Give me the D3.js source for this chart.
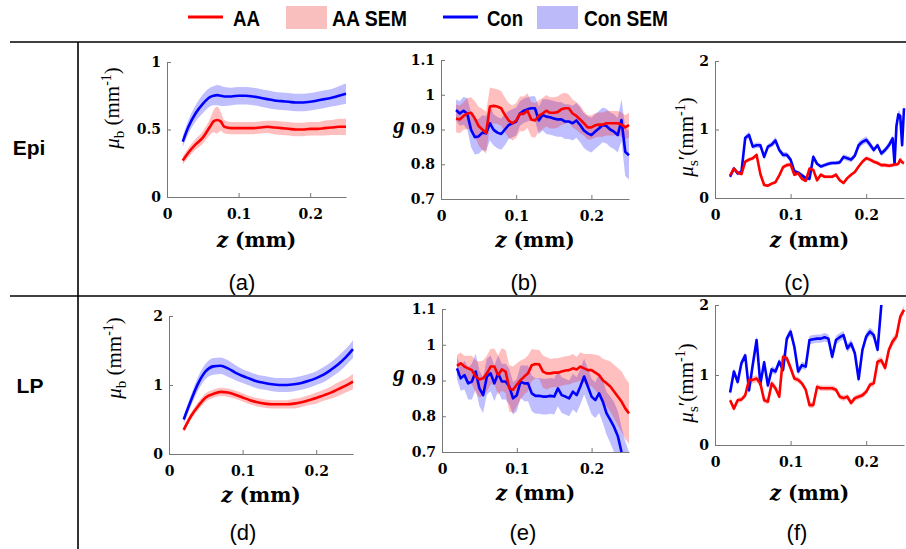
<!DOCTYPE html>
<html>
<head>
<meta charset="utf-8">
<script src="https://cdn.jsdelivr.net/npm/d3@7"></script>
<style>
body { margin: 0; background: #fff; }
svg { display: block; }
</style>
</head>
<body>
<div id="chart"></div>
<script>
// ---- labels / ticks
const legendLabels = ["AA", "AA SEM", "Con", "Con SEM"];
const rowLabels = ["Epi", "LP"];
const panelLabels = ["(a)", "(b)", "(c)", "(d)", "(e)", "(f)"];
const xTicks = [0, 0.1, 0.2];
const ticksMuA = [0, 0.5, 1];
const ticksG = [0.7, 0.8, 0.9, 1, 1.1];
const ticks012 = [0, 1, 2];

// ---- depth grids (mm)
const zA = [0.022,0.03,0.04,0.05,0.06,0.065,0.07,0.075,0.08,0.09,0.1,0.11,0.12,0.13,0.14,0.15,0.16,0.17,0.18,0.19,0.2,0.21,0.22,0.23,0.24,0.25];
const zD = [0.02,0.03,0.04,0.05,0.06,0.07,0.08,0.09,0.1,0.11,0.12,0.13,0.14,0.15,0.16,0.17,0.18,0.19,0.2,0.21,0.22,0.23,0.24,0.25];
const zN = [0.02,0.025,0.03,0.035,0.04,0.045,0.05,0.055,0.06,0.065,
  0.07,0.075,0.08,0.085,0.09,0.095,0.1,0.105,0.11,0.115,
  0.12,0.125,0.13,0.135,0.14,0.145,0.15,0.155,0.16,0.165,
  0.17,0.175,0.18,0.185,0.19,0.195,0.2,0.205,0.21,0.215,
  0.22,0.225,0.23,0.235,0.24,0.245,0.25];
const zC = [0.02,0.025,0.03,0.035,0.04,0.045,0.05,0.055,0.06,0.065,
  0.07,0.075,0.08,0.085,0.09,0.095,0.1,0.105,0.11,0.115,
  0.12,0.125,0.13,0.135,0.14,0.145,0.15,0.155,0.16,0.165,
  0.17,0.175,0.18,0.185,0.19,0.195,0.2,0.205,0.21,0.215,
  0.22,0.225,0.23,0.235,0.2375,0.24,0.2425,0.245,0.2475,0.25];

// ---- (a) Epi mu_b
const aaMuEpi = [0.27,0.33,0.39,0.44,0.52,0.56,0.57,0.56,0.52,0.51,0.51,0.51,0.51,0.515,0.52,0.515,0.51,0.505,0.5,0.5,0.505,0.505,0.51,0.515,0.52,0.52];
const aaMuEpiSem = [0.03,0.035,0.04,0.045,0.06,0.08,0.1,0.07,0.05,0.045,0.045,0.045,0.045,0.045,0.045,0.05,0.05,0.05,0.05,0.05,0.05,0.05,0.055,0.055,0.06,0.06];
const conMuEpi = [0.41,0.52,0.62,0.69,0.74,0.75,0.755,0.75,0.745,0.745,0.75,0.75,0.745,0.735,0.725,0.715,0.71,0.705,0.7,0.7,0.705,0.715,0.725,0.735,0.75,0.765];
const conMuEpiSem = [0.04,0.05,0.06,0.07,0.07,0.07,0.075,0.075,0.07,0.065,0.065,0.065,0.065,0.065,0.065,0.065,0.065,0.065,0.065,0.065,0.065,0.065,0.065,0.065,0.07,0.075];

// ---- (b) Epi g
const aaGEpi = [0.932,0.929,0.939,0.946,0.948,0.932,0.91,0.9,0.891,0.966,
  0.968,0.966,0.961,0.942,0.926,0.918,0.926,0.945,0.945,0.954,
  0.929,0.926,0.939,0.946,0.954,0.948,0.948,0.95,0.958,0.961,
  0.961,0.946,0.939,0.929,0.918,0.906,0.906,0.912,0.914,0.914,
  0.918,0.918,0.918,0.918,0.914,0.906,0.913];
const aaGEpiSem = [0.04,0.04,0.04,0.045,0.045,0.05,0.055,0.06,0.06,0.055,
  0.05,0.05,0.05,0.05,0.05,0.05,0.05,0.05,0.05,0.05,
  0.05,0.05,0.045,0.045,0.045,0.045,0.045,0.045,0.045,0.045,
  0.04,0.04,0.04,0.04,0.035,0.035,0.035,0.035,0.035,0.035,
  0.035,0.035,0.035,0.035,0.035,0.035,0.035];
const conGEpi = [0.956,0.946,0.954,0.945,0.899,0.878,0.88,0.891,0.889,0.918,
  0.899,0.891,0.887,0.9,0.913,0.918,0.923,0.946,0.954,0.958,
  0.961,0.961,0.926,0.942,0.937,0.935,0.932,0.929,0.929,0.923,
  0.923,0.918,0.926,0.913,0.897,0.889,0.884,0.894,0.903,0.913,
  0.91,0.9,0.894,0.884,0.927,0.836,0.826];
const conGEpiSem = [0.03,0.035,0.04,0.045,0.05,0.05,0.05,0.05,0.05,0.05,
  0.045,0.045,0.045,0.045,0.04,0.04,0.04,0.035,0.035,0.035,
  0.035,0.035,0.04,0.045,0.05,0.05,0.05,0.05,0.05,0.05,
  0.05,0.05,0.05,0.05,0.05,0.05,0.05,0.05,0.05,0.05,
  0.05,0.05,0.05,0.05,0.06,0.07,0.07];

// ---- (c) Epi mu_s'
const aaMusEpi = [0.33,0.43,0.37,0.35,0.53,0.56,0.58,0.63,0.35,0.19,
  0.18,0.21,0.23,0.33,0.45,0.48,0.49,0.34,0.36,0.28,
  0.25,0.43,0.41,0.26,0.34,0.31,0.31,0.31,0.34,0.26,
  0.22,0.29,0.34,0.38,0.46,0.53,0.58,0.56,0.53,0.51,
  0.48,0.48,0.47,0.48,0.49,0.49,0.5,0.56,0.52,0.51];
const aaMusEpiSem = [0.025,0.025,0.025,0.025,0.03,0.03,0.03,0.03,0.03,0.025,
  0.025,0.025,0.025,0.025,0.03,0.03,0.03,0.025,0.025,0.025,
  0.025,0.025,0.025,0.025,0.025,0.025,0.025,0.025,0.025,0.025,
  0.025,0.025,0.025,0.025,0.03,0.03,0.03,0.03,0.03,0.03,
  0.03,0.03,0.03,0.03,0.03,0.03,0.03,0.03,0.03,0.03];
const conMusEpi = [0.31,0.43,0.36,0.38,0.88,0.92,0.75,0.77,0.77,0.6,
  0.75,0.78,0.84,0.7,0.63,0.63,0.56,0.39,0.37,0.33,
  0.29,0.28,0.6,0.5,0.46,0.48,0.5,0.51,0.51,0.52,
  0.6,0.58,0.56,0.62,0.77,0.82,0.85,0.78,0.7,0.77,
  0.65,0.7,0.77,0.87,0.5,1.05,1.22,1.2,0.77,1.31];
const conMusEpiSem = [0.03,0.03,0.03,0.03,0.04,0.05,0.04,0.04,0.04,0.04,
  0.04,0.04,0.05,0.04,0.04,0.04,0.04,0.03,0.03,0.03,
  0.03,0.03,0.04,0.03,0.03,0.03,0.03,0.03,0.03,0.03,
  0.04,0.04,0.04,0.04,0.05,0.05,0.05,0.05,0.04,0.04,
  0.04,0.04,0.05,0.05,0.05,0.06,0.06,0.06,0.05,0.06];

// ---- (d) LP mu_b
const aaMuLP = [0.35,0.55,0.7,0.82,0.87,0.9,0.89,0.86,0.82,0.78,0.75,0.73,0.72,0.72,0.72,0.73,0.75,0.78,0.81,0.85,0.89,0.94,0.99,1.05];
const aaMuLPSem = [0.04,0.05,0.06,0.06,0.06,0.06,0.06,0.06,0.06,0.06,0.06,0.06,0.06,0.06,0.06,0.07,0.07,0.07,0.08,0.08,0.09,0.1,0.1,0.11];
const conMuLP = [0.5,0.78,1.03,1.2,1.27,1.28,1.24,1.18,1.13,1.09,1.05,1.03,1.01,1.0,1.0,1.01,1.03,1.06,1.1,1.15,1.22,1.3,1.4,1.52];
const conMuLPSem = [0.06,0.08,0.1,0.11,0.12,0.12,0.12,0.11,0.1,0.1,0.1,0.1,0.1,0.1,0.1,0.1,0.1,0.1,0.1,0.11,0.11,0.12,0.12,0.13];

// ---- (e) LP g
const aaGLP = [0.941,0.948,0.939,0.934,0.929,0.911,0.903,0.906,0.92,0.939,
  0.939,0.915,0.931,0.925,0.878,0.874,0.888,0.901,0.911,0.92,
  0.943,0.946,0.945,0.925,0.92,0.92,0.922,0.922,0.925,0.928,
  0.929,0.934,0.931,0.939,0.934,0.929,0.929,0.922,0.915,0.901,
  0.892,0.883,0.869,0.855,0.841,0.822,0.808];
const aaGLPSem = [0.03,0.03,0.03,0.035,0.04,0.045,0.05,0.05,0.05,0.05,
  0.05,0.055,0.06,0.06,0.065,0.065,0.06,0.055,0.05,0.05,
  0.045,0.04,0.04,0.045,0.045,0.04,0.04,0.04,0.04,0.04,
  0.04,0.04,0.035,0.04,0.04,0.045,0.045,0.05,0.055,0.06,
  0.065,0.07,0.075,0.08,0.085,0.085,0.085];
const conGLP = [0.934,0.906,0.915,0.892,0.897,0.925,0.878,0.859,0.911,0.92,
  0.892,0.92,0.897,0.897,0.883,0.85,0.859,0.897,0.892,0.892,
  0.864,0.857,0.857,0.855,0.855,0.857,0.855,0.878,0.859,0.855,
  0.85,0.869,0.859,0.883,0.911,0.883,0.855,0.845,0.864,0.841,
  0.808,0.79,0.77,0.745,0.7,0.66,0.63];
const conGLPSem = [0.03,0.035,0.04,0.045,0.05,0.05,0.05,0.05,0.05,0.05,
  0.05,0.05,0.05,0.05,0.05,0.045,0.045,0.045,0.05,0.05,
  0.05,0.05,0.05,0.05,0.05,0.05,0.05,0.05,0.05,0.05,
  0.05,0.05,0.05,0.05,0.05,0.05,0.05,0.05,0.055,0.06,
  0.06,0.065,0.07,0.07,0.07,0.07,0.07];

// ---- (f) LP mu_s'
const aaMusLP = [0.64,0.52,0.64,0.65,0.71,0.93,0.93,0.95,0.88,0.64,
  0.62,0.88,0.81,0.69,1.26,1.24,1.1,0.95,0.93,0.88,
  0.79,0.57,0.57,0.83,0.81,0.81,0.81,0.81,0.79,0.69,
  0.67,0.69,0.6,0.67,0.69,0.71,0.76,0.86,0.88,1.19,
  1.21,1.1,1.36,1.48,1.55,1.83,1.93];
const aaMusLPSem = [0.04,0.04,0.04,0.04,0.04,0.05,0.05,0.05,0.05,0.04,
  0.04,0.05,0.05,0.04,0.05,0.05,0.05,0.04,0.04,0.04,
  0.04,0.04,0.04,0.04,0.04,0.04,0.04,0.04,0.04,0.04,
  0.04,0.04,0.04,0.04,0.04,0.04,0.04,0.04,0.05,0.05,
  0.05,0.05,0.05,0.06,0.06,0.06,0.06];
const conMusLP = [0.75,1.05,0.9,1.17,1.28,0.78,1.15,1.5,0.87,1.18,
  0.85,1.08,1.05,1.19,1.07,1.52,1.62,1.4,1.05,1.14,
  1.12,1.5,1.51,1.52,1.52,1.54,1.52,1.26,1.5,1.54,
  1.57,1.38,1.45,1.31,0.94,1.36,1.55,1.62,1.57,1.36,
  2.0,null,null,null,null,null,null];
const conMusLPSem = [0.05,0.05,0.05,0.05,0.05,0.05,0.05,0.06,0.05,0.05,
  0.05,0.05,0.05,0.05,0.05,0.06,0.06,0.06,0.05,0.05,
  0.05,0.06,0.06,0.06,0.06,0.06,0.06,0.06,0.06,0.06,
  0.06,0.06,0.06,0.05,0.05,0.05,0.06,0.06,0.06,0.06,
  0.06,null,null,null,null,null,null];

const RED = "#ff0000", BLUE = "#0000ff";
const PINK = "#f9bfbf", LAV = "#bcbaf8";

const svg = d3.select("#chart").append("svg")
  .attr("width", 906).attr("height", 549);

// frame lines
svg.append("line").attr("x1", 10).attr("x2", 906).attr("y1", 42).attr("y2", 42)
  .attr("stroke", "#000").attr("stroke-width", 1.6);
svg.append("line").attr("x1", 10).attr("x2", 906).attr("y1", 296).attr("y2", 296)
  .attr("stroke", "#000").attr("stroke-width", 1.6);
svg.append("line").attr("x1", 78).attr("x2", 78).attr("y1", 42).attr("y2", 549)
  .attr("stroke", "#000").attr("stroke-width", 1.6);

// legend
const leg = svg.append("g").attr("font-family", "'Liberation Sans', Arial, sans-serif")
  .attr("font-weight", "bold").attr("font-size", 22);
leg.append("line").attr("x1", 188).attr("x2", 223).attr("y1", 17).attr("y2", 17).attr("stroke", RED).attr("stroke-width", 3);
leg.append("text").attr("x", 233).attr("y", 26).attr("textLength", 27).attr("lengthAdjust", "spacingAndGlyphs").text(legendLabels[0]);
leg.append("rect").attr("x", 286).attr("y", 6).attr("width", 41).attr("height", 23).attr("fill", PINK);
leg.append("text").attr("x", 332).attr("y", 26).attr("textLength", 75).attr("lengthAdjust", "spacingAndGlyphs").text(legendLabels[1]);
leg.append("line").attr("x1", 443).attr("x2", 478).attr("y1", 17).attr("y2", 17).attr("stroke", BLUE).attr("stroke-width", 3);
leg.append("text").attr("x", 487).attr("y", 26).attr("textLength", 36).attr("lengthAdjust", "spacingAndGlyphs").text(legendLabels[2]);
leg.append("rect").attr("x", 537).attr("y", 6).attr("width", 41).attr("height", 23).attr("fill", LAV);
leg.append("text").attr("x", 584).attr("y", 26).attr("textLength", 84).attr("lengthAdjust", "spacingAndGlyphs").text(legendLabels[3]);

// row labels
svg.append("text").attr("x", 29).attr("y", 155).attr("text-anchor", "middle")
  .attr("font-family", "'Liberation Sans', Arial, sans-serif").attr("font-weight", "bold")
  .attr("font-size", 21).text(rowLabels[0]);
svg.append("text").attr("x", 30).attr("y", 393).attr("text-anchor", "middle")
  .attr("font-family", "'Liberation Sans', Arial, sans-serif").attr("font-weight", "bold")
  .attr("font-size", 21).text(rowLabels[1]);

const panels = [
  { id: "a", x0: 167, x1: 346, y0: 62, y1: 197, yDom: [0, 1], yTicks: ticksMuA, z: zA, smooth: true,
    aa: aaMuEpi, aaSem: aaMuEpiSem, con: conMuEpi, conSem: conMuEpiSem,
    ylab: "mub", lx: 119, ly: 108, xlabY: 247, plabX: 242, plabY: 290 },
  { id: "b", x0: 441, x1: 629, y0: 60, y1: 199, yDom: [0.7, 1.1], yTicks: ticksG, z: zN, smooth: false,
    aa: aaGEpi, aaSem: aaGEpiSem, con: conGEpi, conSem: conGEpiSem,
    ylab: "g", lx: 399, ly: 133, xlabY: 247, plabX: 524, plabY: 290 },
  { id: "c", x0: 715, x1: 904, y0: 61, y1: 198, yDom: [0, 2], yTicks: ticks012, z: zC, smooth: false,
    aa: aaMusEpi, aaSem: aaMusEpiSem, con: conMusEpi, conSem: conMusEpiSem,
    ylab: "mus", lx: 693, ly: 137, xlabY: 247, plabX: 797, plabY: 290 },
  { id: "d", x0: 169, x1: 353, y0: 316, y1: 454, yDom: [0, 2], yTicks: ticks012, z: zD, smooth: true,
    aa: aaMuLP, aaSem: aaMuLPSem, con: conMuLP, conSem: conMuLPSem,
    ylab: "mub", lx: 121, ly: 358, xlabY: 502, plabX: 243, plabY: 540 },
  { id: "e", x0: 442, x1: 629, y0: 309, y1: 452, yDom: [0.7, 1.1], yTicks: ticksG, z: zN, smooth: false,
    aa: aaGLP, aaSem: aaGLPSem, con: conGLP, conSem: conGLPSem,
    ylab: "g", lx: 399, ly: 381, xlabY: 500, plabX: 523, plabY: 540 },
  { id: "f", x0: 715, x1: 904, y0: 305, y1: 445, yDom: [0, 2], yTicks: ticks012, z: zN, smooth: false,
    aa: aaMusLP, aaSem: aaMusLPSem, con: conMusLP, conSem: conMusLPSem,
    ylab: "mus", lx: 693, ly: 383, xlabY: 500, plabX: 797, plabY: 540 }
];

const defs = svg.append("defs");
const fmt = d3.format("~g");

panels.forEach((p, pi) => {
  const x = d3.scaleLinear().domain([0, 0.25]).range([p.x0, p.x1]);
  const y = d3.scaleLinear().domain(p.yDom).range([p.y1, p.y0]);

  defs.append("clipPath").attr("id", "clip-" + p.id)
    .append("rect").attr("x", p.x0).attr("y", p.y0 - 1)
    .attr("width", p.x1 - p.x0 + 2).attr("height", p.y1 - p.y0 + 1);

  const g = svg.append("g").attr("clip-path", `url(#clip-${p.id})`);
  const idx = d3.range(p.z.length);
  const curve = p.smooth ? d3.curveMonotoneX : d3.curveLinear;

  const series = [
    { v: p.con, s: p.conSem, line: BLUE, band: BLUE },
    { v: p.aa, s: p.aaSem, line: RED, band: RED }
  ];

  series.forEach(sr => {
    const area = d3.area()
      .defined(i => sr.v[i] != null)
      .x(i => x(p.z[i]))
      .y0(i => y(sr.v[i] - sr.s[i]))
      .y1(i => y(sr.v[i] + sr.s[i]))
      .curve(curve);
    g.append("path").datum(idx)
      .attr("fill", sr.band).attr("fill-opacity", 0.25)
      .attr("d", area);
  });

  series.forEach(sr => {
    const line = d3.line()
      .defined(i => sr.v[i] != null)
      .x(i => x(p.z[i]))
      .y(i => y(sr.v[i]))
      .curve(curve);
    g.append("path").datum(idx)
      .attr("fill", "none").attr("stroke", sr.line)
      .attr("stroke-width", 2.6).attr("stroke-linejoin", "round")
      .attr("d", line);
  });

  // axes
  const xa = svg.append("g").attr("transform", `translate(0,${p.y1})`)
    .call(d3.axisBottom(x).tickValues(xTicks).tickFormat(fmt)
      .tickSizeInner(-4).tickSizeOuter(0).tickPadding(12));
  const ya = svg.append("g").attr("transform", `translate(${p.x0},0)`)
    .call(d3.axisLeft(y).tickValues(p.yTicks).tickFormat(fmt)
      .tickSizeInner(-4).tickSizeOuter(0).tickPadding(6));
  [xa, ya].forEach(a => {
    a.attr("font-family", "'DejaVu Serif', serif").attr("font-weight", "bold").attr("font-size", 14);
    a.select(".domain").attr("stroke", "#777").attr("stroke-width", 1);
    a.selectAll(".tick line").attr("stroke", "#777");
    a.selectAll(".tick text").attr("fill", "#000");
  });

  // x label
  const xl = svg.append("text")
    .attr("x", (p.x0 + p.x1) / 2).attr("y", p.xlabY)
    .attr("text-anchor", "middle")
    .attr("font-family", "'DejaVu Serif', serif").attr("font-weight", "bold")
    .attr("font-size", 20);
  xl.append("tspan").attr("font-style", "italic").text("z");
  xl.append("tspan").text(" (mm)");

  // y label
  if (p.ylab === "g") {
    svg.append("text").attr("x", p.lx).attr("y", p.ly).attr("text-anchor", "middle")
      .attr("font-family", "'Liberation Serif', serif").attr("font-weight", "bold")
      .attr("font-style", "italic").attr("font-size", 23).text("g");
  } else {
    const yl = svg.append("text")
      .attr("transform", `translate(${p.lx},${p.ly}) rotate(-90)`)
      .attr("text-anchor", "middle")
      .attr("font-family", "'Liberation Serif', serif").attr("font-size", 21);
    yl.append("tspan").attr("font-style", "italic").text("μ");
    yl.append("tspan").attr("font-size", 15).attr("dy", 5).text(p.ylab === "mub" ? "b" : "s");
    if (p.ylab === "mus") {
      yl.append("tspan").attr("dy", -5).text("′(mm");
    } else {
      yl.append("tspan").attr("dy", -5).text(" (mm");
    }
    yl.append("tspan").attr("font-size", 14).attr("dy", -8).text("-1");
    yl.append("tspan").attr("dy", 8).text(")");
  }

  // panel label
  svg.append("text").attr("x", p.plabX).attr("y", p.plabY).attr("text-anchor", "middle")
    .attr("font-family", "'Liberation Sans', Arial, sans-serif").attr("font-size", 22)
    .text(panelLabels[pi]);
});
</script>
</body>
</html>
